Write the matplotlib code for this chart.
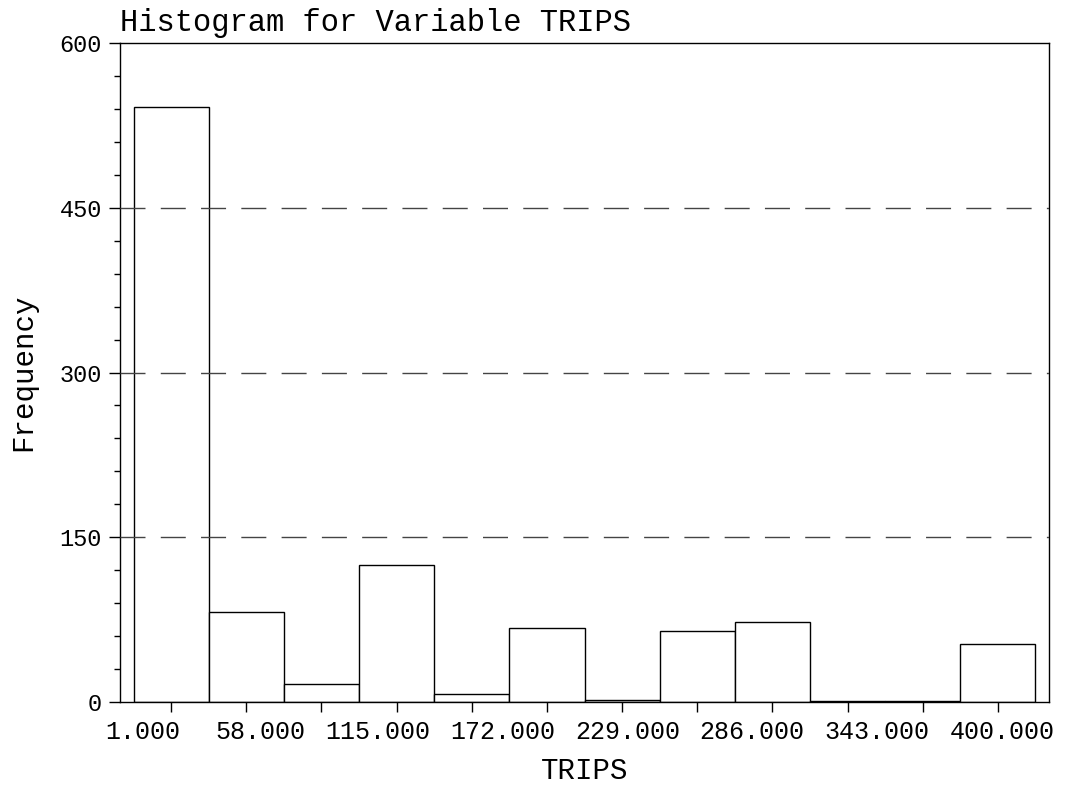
import matplotlib
matplotlib.use("Agg")
import matplotlib.pyplot as plt
from matplotlib.ticker import MultipleLocator
import numpy as np

# bin counts for TRIPS (12 bins)
counts = [542, 82, 16, 125, 7, 67, 2, 65, 73, 1, 1, 53]
tick_labels = ["1.000", "58.000", "115.000", "172.000",
               "229.000", "286.000", "343.000", "400.000"]
y_ticks = [0, 150, 300, 450, 600]

plt.rcParams['font.family'] = ['Liberation Mono', 'DejaVu Sans Mono']

fig = plt.figure(figsize=(10.65, 7.88), dpi=100)
ax = fig.add_axes([0.1127, 0.1091, 0.8723, 0.8363])

bins = np.arange(len(counts))
ax.bar(bins, counts, width=1.0, color="white", edgecolor="black", linewidth=1.0, zorder=2)

# dashed reference lines, drawn over the bars
for v in y_ticks[1:-1]:
    ax.axhline(v, color="#444444", linewidth=1.0, dashes=(18, 11), zorder=3)

ax.set_xlim(-0.68, 11.68)
ax.set_ylim(0, 600)
ax.set_yticks(y_ticks)
ax.yaxis.set_minor_locator(MultipleLocator(30))
ax.tick_params(axis="y", which="major", direction="out", length=8, width=1,
               labelsize=17, pad=5)
ax.tick_params(axis="y", which="minor", direction="out", length=4.5, width=1)

# tick marks at bin centres, no labels
ax.set_xticks(bins)
ax.set_xticklabels([])
ax.tick_params(axis="x", which="major", direction="out", length=7.5, width=1)

# value labels along the bottom, right aligned at equal steps
lab_pos = 0.12 + 1.662 * np.arange(len(tick_labels))
for p, t in zip(lab_pos, tick_labels):
    ax.text(p, -0.028, t, transform=ax.get_xaxis_transform(), ha="right", va="top",
            fontsize=18, clip_on=False)

for s in ax.spines.values():
    s.set_linewidth(1.0)
    s.set_color("black")

ax.set_title("Histogram for Variable TRIPS", loc="left", fontsize=22, pad=9)
ax.set_xlabel("TRIPS", fontsize=21)
ax.set_ylabel("Frequency", fontsize=21)
ax.xaxis.set_label_coords(0.5, -0.083)
ax.yaxis.set_label_coords(-0.089, 0.5)

fig.savefig("out.png", dpi=100)
